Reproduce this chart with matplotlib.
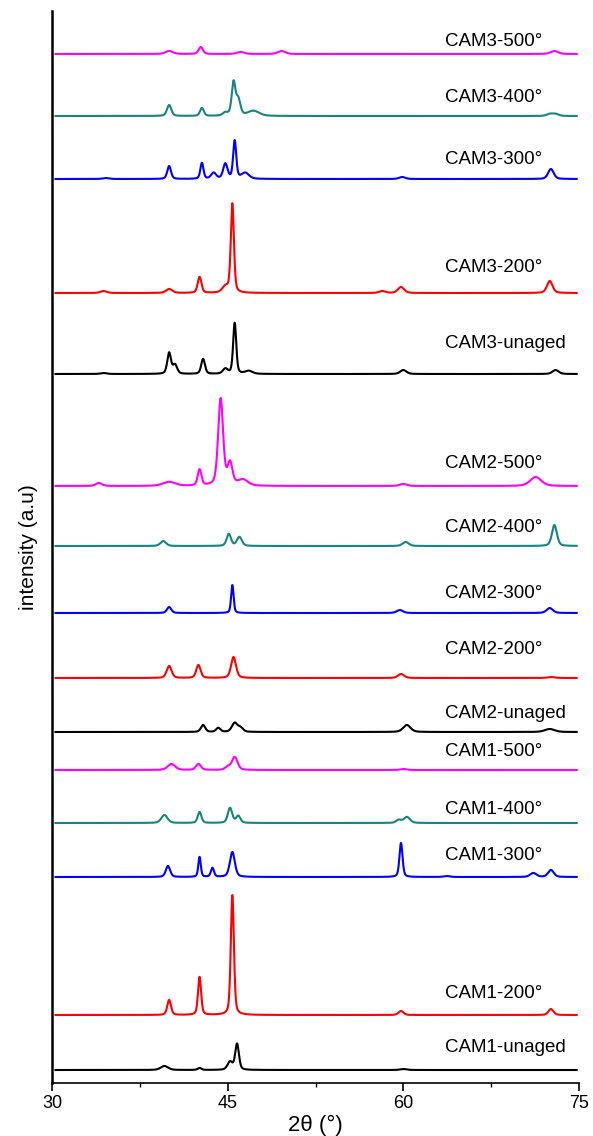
import numpy as np
import matplotlib
matplotlib.use("Agg")
import matplotlib.pyplot as plt
from matplotlib.ticker import MultipleLocator

# sample names, bottom to top
names = ["CAM1-unaged", "CAM1-200°", "CAM1-300°", "CAM1-400°", "CAM1-500°",
         "CAM2-unaged", "CAM2-200°", "CAM2-300°", "CAM2-400°", "CAM2-500°",
         "CAM3-unaged", "CAM3-200°", "CAM3-300°", "CAM3-400°", "CAM3-500°"]

# peaks: (2theta, height, fwhm)
cam1_unaged = [(39.6, 4, 0.6), (42.6, 2, 0.3), (45.2, 8, 0.4), (45.8, 26, 0.3), (60.0, 1, 0.5)]
cam1_200 = [(40.0, 15, 0.3), (42.6, 38, 0.25), (45.4, 120, 0.25), (59.8, 4, 0.4), (72.6, 6, 0.4)]
cam1_300 = [(39.9, 11, 0.35), (42.6, 20, 0.2), (43.7, 9, 0.25), (45.4, 25, 0.4),
            (59.8, 34, 0.25), (63.7, 1, 0.5), (71.1, 4, 0.5), (72.6, 7, 0.45)]
cam1_400 = [(39.6, 8, 0.5), (42.6, 11, 0.3), (45.2, 15, 0.35), (45.9, 7, 0.35),
            (59.6, 3, 0.4), (60.3, 6, 0.5)]
cam1_500 = [(40.2, 6, 0.6), (42.5, 6, 0.4), (45.0, 3, 0.4), (45.6, 13, 0.45), (60.0, 1, 0.5)]
cam2_unaged = [(42.9, 7, 0.35), (44.2, 4, 0.35), (45.6, 9, 0.45), (46.1, 4, 0.4),
               (60.3, 7, 0.6), (72.5, 3, 0.8)]
cam2_200 = [(40.0, 12, 0.4), (42.5, 13, 0.35), (45.5, 21, 0.4), (59.8, 4, 0.5), (72.6, 1, 0.6)]
cam2_300 = [(40.0, 6, 0.35), (45.4, 28, 0.2), (59.7, 3, 0.5), (72.5, 5, 0.5)]
cam2_400 = [(39.5, 5, 0.45), (45.1, 12, 0.35), (46.0, 9, 0.4), (60.2, 4, 0.5), (72.9, 21, 0.4)]
cam2_500 = [(34.0, 3, 0.5), (40.0, 4, 1.0), (42.6, 16, 0.3), (44.4, 87, 0.4), (45.2, 22, 0.4),
            (46.3, 6, 0.8), (60.0, 2, 0.6), (71.3, 9, 0.9)]
cam3_unaged = [(34.4, 1, 0.5), (40.0, 21, 0.3), (40.5, 9, 0.35), (42.9, 15, 0.3), (44.8, 5, 0.4),
               (45.6, 51, 0.25), (46.8, 3, 0.6), (60.0, 4, 0.5), (73.0, 4, 0.5)]
cam3_200 = [(34.4, 2, 0.5), (40.0, 4, 0.5), (42.6, 16, 0.3), (44.8, 6, 0.5), (45.4, 89, 0.25),
            (58.2, 2, 0.5), (59.8, 6, 0.5), (72.5, 12, 0.45)]
cam3_300 = [(34.6, 1, 0.5), (40.0, 13, 0.3), (42.8, 16, 0.25), (43.8, 6, 0.4), (44.8, 15, 0.35),
            (45.6, 38, 0.25), (46.5, 6, 0.6), (59.9, 2, 0.5), (72.6, 10, 0.45)]
cam3_400 = [(40.0, 11, 0.35), (42.8, 8, 0.3), (44.8, 3, 0.4), (45.5, 33, 0.3), (45.9, 16, 0.35),
            (47.2, 5, 0.9), (72.5, 2, 0.5), (73.0, 2, 0.5)]
cam3_500 = [(40.0, 3, 0.6), (42.7, 7, 0.35), (46.1, 2, 0.6), (49.6, 3, 0.6), (72.9, 3, 0.6)]

peaks = [cam1_unaged, cam1_200, cam1_300, cam1_400, cam1_500,
         cam2_unaged, cam2_200, cam2_300, cam2_400, cam2_500,
         cam3_unaged, cam3_200, cam3_300, cam3_400, cam3_500]

# stacking offset of each baseline
offsets = [13, 68, 206, 260, 313, 351, 405, 470, 537, 597, 709, 790, 904, 967, 1029]

colors = ["black", "#ff0000", "#0000ff", "#16857d", "#ff00ff"] * 3
# label height above each baseline
label_dy = [22, 22, 22, 13, 18, 19, 28, 20, 19, 23, 31, 26, 19, 19, 12]


def pattern(x, plist):
    y = np.zeros_like(x)
    for p, h, w in plist:
        w = w * 1.25  # rendered lines look a touch wider than read
        g = np.exp(-4 * np.log(2) * ((x - p) / w) ** 2)
        l = 1 / (1 + ((x - p) / (w / 2)) ** 2)
        y += h * (0.6 * g + 0.4 * l)
    return y


def main():
    fig = plt.figure(figsize=(5.93, 11.36), dpi=100)
    ax = fig.add_axes([52 / 593, 53 / 1136, 527 / 593, 1072 / 1136])

    x = np.linspace(30.3, 74.8, 3000)
    for plist, off, c, name, dy in zip(peaks, offsets, colors, names, label_dy):
        ax.plot(x, pattern(x, plist) + off, color=c, lw=1.5)
        ax.text(63.6, off + dy, name, fontsize=13.5, family="Liberation Sans",
                ha="left", va="center")

    ax.set_xlim(30, 75)
    ax.set_ylim(0, 1072)
    ax.set_xticks([30, 45, 60, 75])
    ax.xaxis.set_minor_locator(MultipleLocator(7.5))
    ax.set_yticks([])
    for s in ["top", "right"]:
        ax.spines[s].set_visible(False)
    ax.spines["left"].set_linewidth(1.8)
    ax.spines["bottom"].set_linewidth(1.2)
    ax.tick_params(axis="x", which="major", length=6, width=1.2, labelsize=13, pad=3)
    ax.tick_params(axis="x", which="minor", length=3, width=1.0)
    for t in ax.get_xticklabels():
        t.set_family("Liberation Sans")
    ax.set_xlabel("2θ (°)", fontsize=16, family="Liberation Sans", labelpad=2)
    ax.set_ylabel("intensity (a.u)", fontsize=15, family="Liberation Sans", labelpad=10)

    fig.savefig("out.png", dpi=100)


if __name__ == "__main__":
    main()
